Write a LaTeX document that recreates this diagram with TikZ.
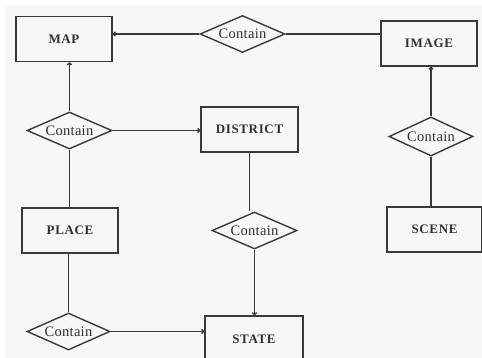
\documentclass[tikz,border=0pt]{standalone}
\usepackage{fontspec}
\setmainfont{Liberation Serif}
\usetikzlibrary{shapes.geometric,arrows.meta}
\definecolor{bg}{HTML}{F7F7F7}
\definecolor{ln}{HTML}{3A3A3A}
\definecolor{tx}{HTML}{303030}
\tikzset{
  ent/.style={draw=ln, line width=1.5pt, minimum width=96pt, minimum height=45pt, inner sep=0pt,
    text=tx, font=\fontsize{13}{13}\selectfont\bfseries\addfontfeatures{LetterSpace=5}},
  rel/.style={draw=ln, line width=1.4pt, diamond, shape aspect=2.3, minimum width=85pt, minimum height=37pt,
    inner sep=0pt, text=tx, font=\fontsize{14.5}{14.5}\selectfont\addfontfeatures{LetterSpace=2}},
  conn/.style={draw=ln, line width=1.5pt},
  arr/.style={conn, -{To[length=3pt,width=5pt]}}
}
\begin{document}
\begin{tikzpicture}[x=1pt,y=-1pt]
\useasboundingbox (0,0) rectangle (482,358);
\fill[white] (0,0) rectangle (482,358);
\fill[bg] (5,5) rectangle (482,358);
\node[ent] (map) at (64,39) {MAP};
\node[rel] (c1) at (242.5,34) {Contain};
\node[ent] (image) at (429,43.5) {IMAGE};
\node[rel] (c2) at (69.5,130.5) {Contain};
\node[ent, minimum width=97pt] (district) at (249.5,129.5) {DISTRICT};
\node[rel, minimum width=84pt, minimum height=39pt] (c3) at (431,136.5) {Contain};
\node[ent] (place) at (70,230.5) {PLACE};
\node[rel] (c4) at (254.5,230.5) {Contain};
\node[ent, minimum width=95pt] (scene) at (434.5,229.5) {SCENE};
\node[rel, minimum width=83pt] (c5) at (68.5,331.5) {Contain};
\node[ent, minimum width=98pt, minimum height=46pt] (state) at (254,339) {STATE};
\draw[arr] (c1.west) -- (c1.west -| map.east);
\draw[conn] (c1.east) -- (c1.east -| image.west);
\draw[arr] (c2.north) -- (c2.north |- map.south);
\draw[arr] (c2.east) -- (c2.east -| district.west);
\draw[conn] (c2.south) -- (c2.south |- place.north);
\draw[arr] (c3.north) -- (c3.north |- image.south);
\draw[conn] (scene.north -| c3.south) -- (c3.south);
\draw[conn] (district.south) -- (district.south |- c4.north);
\draw[arr] (c4.south) -- (c4.south |- state.north);
\draw[conn] (place.south -| c5.north) -- (c5.north);
\draw[arr] (c5.east) -- (c5.east -| state.west);
\end{tikzpicture}
\end{document}
